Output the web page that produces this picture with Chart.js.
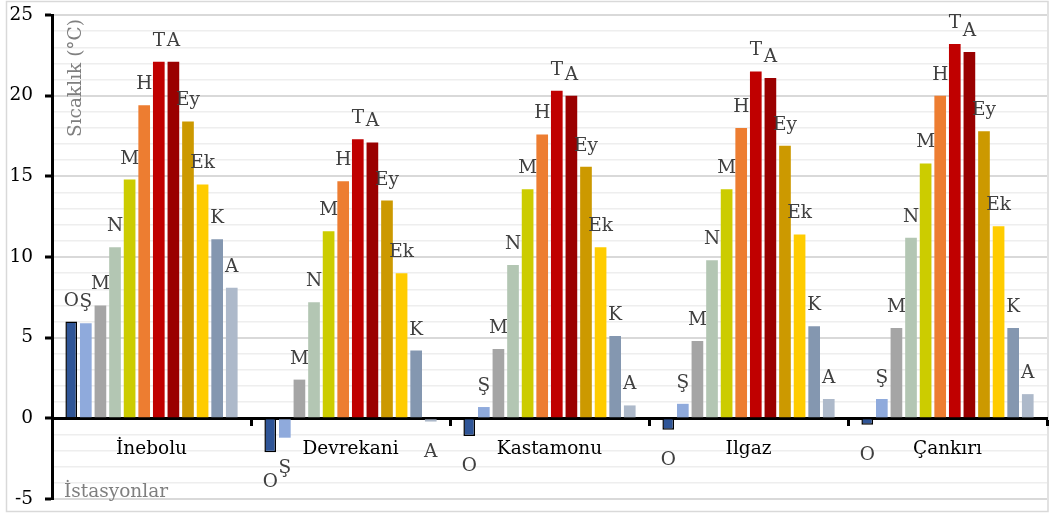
<!DOCTYPE html>
<html lang="tr">
<head>
<meta charset="utf-8">
<title>Aylık ortalama sıcaklık</title>
<script src="https://cdn.jsdelivr.net/npm/chart.js@4.4.1/dist/chart.umd.min.js"></script>
<style>
html,body{margin:0;padding:0;background:#fff;}
#wrap{position:relative;width:1049px;height:516px;}
</style>
</head>
<body>
<div id="wrap"><canvas id="c"></canvas></div>
<script>
// istasyonlar ve aylara göre ortalama sıcaklık (°C)
const stations = ["İnebolu", "Devrekani", "Kastamonu", "Ilgaz", "Çankırı"];
const monthTags = ["O", "Ş", "M", "N", "M", "H", "T", "A", "Ey", "Ek", "K", "A"];
const ocak    = [6.0, -2.1, -1.1, -0.7, -0.4];
const subat   = [5.9, -1.2, 0.7, 0.9, 1.2];
const mart    = [7.0, 2.4, 4.3, 4.8, 5.6];
const nisan   = [10.6, 7.2, 9.5, 9.8, 11.2];
const mayis   = [14.8, 11.6, 14.2, 14.2, 15.8];
const haziran = [19.4, 14.7, 17.6, 18.0, 20.0];
const temmuz  = [22.1, 17.3, 20.3, 21.5, 23.2];
const agustos = [22.1, 17.1, 20.0, 21.1, 22.7];
const eylul   = [18.4, 13.5, 15.6, 16.9, 17.8];
const ekim    = [14.5, 9.0, 10.6, 11.4, 11.9];
const kasim   = [11.1, 4.2, 5.1, 5.7, 5.6];
const aralik  = [8.1, -0.2, 0.8, 1.2, 1.5];
// y ekseni: -5..25, her 1 derecede ince, her 5 derecede etiketli çizgi
const yMin = -5, yMax = 25, yStep = 1, yMajor = 5;

const monthColors = ["#2F5597","#8FAADC","#A5A5A5","#B3C6B3","#CCCC00","#ED7D31",
                     "#C00000","#9A0000","#CC9900","#FFCC00","#8497B0","#ADB9CA"];
const FONT = "'DejaVu Serif', 'Liberation Serif', serif";
const FSIZE = 18.5;

(function(){
  const series = [ocak, subat, mart, nisan, mayis, haziran, temmuz, agustos, eylul, ekim, kasim, aralik];
  const isMajor = v => v % yMajor === 0;

  // çubuk üstü ay harfleri, eksen yazıları ve dış çerçeve
  const extras = {
    id: "extras",
    beforeDraw(ch){
      const c = ch.ctx;
      c.save();
      c.strokeStyle = "#D9D9D9"; c.lineWidth = 1.5;
      c.strokeRect(6.5, 1.5, 1041.5, 510);
      c.restore();
    },
    afterDatasetsDraw(ch){
      const c = ch.ctx;
      c.save();
      c.font = FSIZE + "px " + FONT;
      c.fillStyle = "#404040";
      c.textAlign = "center";
      c.textBaseline = "alphabetic";
      ch.data.datasets.forEach((ds, i)=>{
        ch.getDatasetMeta(i).data.forEach((bar, j)=>{
          const v = ds.data[j];
          c.fillText(monthTags[i], bar.x, v >= 0 ? bar.y - 16 : bar.y + 35);
        });
      });
      c.fillStyle = "#7F7F7F";
      c.textAlign = "left";
      c.fillText("İstasyonlar", 64, 497);
      c.translate(76, 78);
      c.rotate(-Math.PI/2);
      c.textAlign = "center";
      c.textBaseline = "middle";
      c.fillText("Sıcaklık (°C)", 0, 0);
      c.restore();
    }
  };

  new Chart(document.getElementById("c"), {
    type: "bar",
    data: {
      labels: stations,
      datasets: series.map((d, i)=>({
        label: monthTags[i],
        data: d,
        backgroundColor: monthColors[i],
        borderColor: i === 0 ? "#000" : monthColors[i],
        borderWidth: i === 0 ? 1.5 : 0
      }))
    },
    options: {
      responsive: true, maintainAspectRatio: false, animation: false,
      layout: {padding: {left: 0, top: 15, right: 2, bottom: 17}},
      plugins: {legend: {display: false}, tooltip: {enabled: false}},
      datasets: {bar: {categoryPercentage: 0.88, barPercentage: 0.8}},
      scales: {
        x: {
          position: {y: 0}, z: 1,
          afterFit(s){ s.paddingLeft = s.paddingRight = 0; },
          grid: {offset: true, drawOnChartArea: false, drawTicks: true, tickLength: 6, tickColor: "#000", tickWidth: 3},
          border: {display: true, color: "#000", width: 3},
          ticks: {color: "#000", font: {family: FONT, size: FSIZE}, padding: 14, maxRotation: 0, autoSkip: false}
        },
        y: {
          min: yMin, max: yMax,
          // etiket taşmaları çizim alanını kaydırmasın
          afterFit(s){ s.width = 52; s.paddingTop = s.paddingBottom = 0; },
          ticks: {stepSize: yStep, autoSkip: false, color: "#000", font: {family: FONT, size: FSIZE}, padding: 12,
                  callback: v => isMajor(v) ? v : ""},
          grid: {
            color: c => isMajor(c.tick.value) ? "#D9D9D9" : "#EEEEEE",
            lineWidth: c => isMajor(c.tick.value) ? 2 : 1.5,
            tickLength: 7,
            tickColor: c => isMajor(c.tick.value) ? "#000" : "rgba(0,0,0,0)",
            tickWidth: 3
          },
          border: {color: "#000", width: 3}
        }
      }
    },
    plugins: [extras]
  });
})();
</script>
</body>
</html>
